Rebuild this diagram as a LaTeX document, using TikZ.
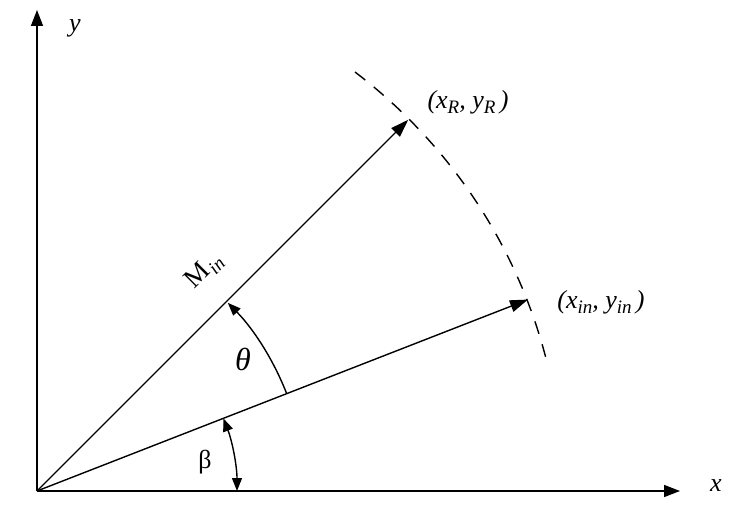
\documentclass[tikz,border=0pt]{standalone}
\usepackage{fontspec}
\setmainfont{Liberation Serif}
\usetikzlibrary{arrows.meta,calc}
\newcommand\sbs[1]{\raisebox{-0.45ex}{\fontsize{19}{19}\selectfont\textit{#1}}}
\begin{document}
\begin{tikzpicture}[x=1pt,y=1pt,
  ax/.style={line width=1.6pt,-{Triangle[length=16pt,width=12pt]}},
  vec/.style={line width=1.4pt,-{Triangle[length=18pt,width=12pt]}},
  ang/.style={line width=1.4pt},
  lbl/.style={font=\fontsize{26}{28}\selectfont\itshape, inner sep=0pt}]
\fill[white] (0,0) rectangle (738,525);
\useasboundingbox (0,0) rectangle (738,525);
\coordinate (O) at (37,34);
\coordinate (X) at (680,34);
\coordinate (Y) at (37,515);
\coordinate (R) at ($(O)+(45:525)$);
\coordinate (In) at ($(O)+(21.3:527)$);
\coordinate (D1) at ($(O)+(52.8:526)$);
\coordinate (T1) at ($(O)+(21.3:268)$);
\coordinate (B1) at ($(O)+(0:200)$);
% axes
\draw[ax] (O) -- (X);
\draw[ax] (O) -- (Y);
% vectors
\draw[vec] (O) -- (R);
\draw[vec] (O) -- (In);
% dashed arc
\draw[line width=1.4pt, dash pattern=on 13pt off 11pt] (D1) arc[start angle=52.8, end angle=13.85, radius=526];
% theta arc
\draw[ang,-{Triangle[length=13pt,width=10pt]}] (T1) arc[start angle=21.3, end angle=44.6, radius=268];
% beta arc
\draw[ang,{Triangle[length=13pt,width=10pt]}-{Triangle[length=13pt,width=10pt]}] (B1) arc[start angle=0, end angle=21.3, radius=200];
% labels
\node[lbl] (ylab) at (75,497) {y};
\node[lbl] (xlab) at (716,39) {x};
\node[lbl] (Rlab) at (468,423) {(x\sbs{R}, y\sbs{R}\,)};
\node[lbl] (Inlab) at (601,223) {(x\sbs{in}, y\sbs{in}\,)};
\node[inner sep=0pt, rotate=45, font=\fontsize{27}{28}\selectfont] (Mlab) at (204,254) {M\kern1pt\sbs{in}};
\node[lbl, font=\fontsize{32}{34}\selectfont\itshape] (th) at (243,166) {θ};
\node[inner sep=0pt, font=\fontsize{26}{28}\selectfont] (be) at (205,63) {β};
\end{tikzpicture}
\end{document}
